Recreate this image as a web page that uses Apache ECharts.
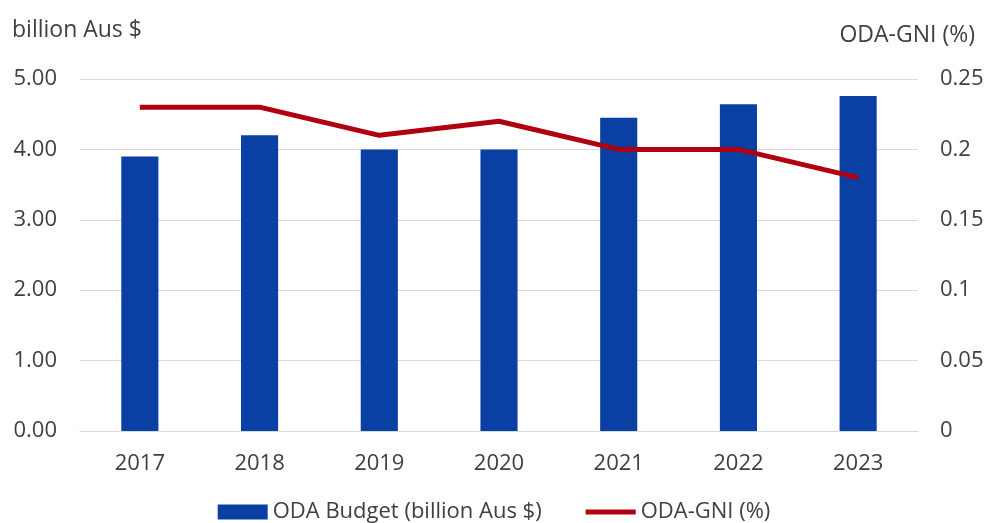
<!DOCTYPE html>
<html>
<head>
<meta charset="utf-8">
<script src="https://cdn.jsdelivr.net/npm/echarts@6/dist/echarts.min.js"></script>
<style>html,body{margin:0;padding:0;background:#fff}#c{width:988px;height:523px}</style>
</head>
<body>
<div id="c"></div>
<script>
const categories = ['2017','2018','2019','2020','2021','2022','2023'];
const odaBudget = [3.9, 4.2, 4.0, 4.0, 4.45, 4.64, 4.76];
const odaGni = [0.23, 0.23, 0.21, 0.22, 0.20, 0.20, 0.18];
const leftTitle = 'billion Aus $';
const rightTitle = 'ODA-GNI (%)';

const font = '"Open Sans", "Liberation Sans", sans-serif';
const txt = '#404040';
const chart = echarts.init(document.getElementById('c'));
chart.setOption({
  animation: false,
  textStyle: {fontFamily: font},
  title: [
    {text: leftTitle, left: 12, top: 19, padding: 0, textStyle: {fontFamily: font, fontSize: 23, fontWeight: 'normal', color: txt}},
    {text: rightTitle, right: 13, top: 24, padding: 0, textStyle: {fontFamily: font, fontSize: 23, fontWeight: 'normal', color: txt}}
  ],
  grid: {left: 80, right: 70, top: 79, bottom: 92, containLabel: false},
  legend: {
    top: 496, left: 'center', itemGap: 44, itemWidth: 50, itemHeight: 15,
    textStyle: {fontFamily: font, fontSize: 22, color: txt},
    data: [
      {name: 'ODA Budget (billion Aus $)', icon: 'rect'},
      {name: 'ODA-GNI (%)', icon: 'path://M0,0h50v5h-50z', itemStyle: {color: '#B00010'}}
    ]
  },
  xAxis: {
    type: 'category', data: categories,
    axisLine: {lineStyle: {color: '#d9d9d9', width: 1}},
    axisTick: {show: false},
    axisLabel: {fontSize: 22, color: txt, margin: 22, fontFamily: font}
  },
  yAxis: [
    {
      type: 'value', min: 0, max: 5, interval: 1,
      axisLabel: {fontSize: 22, color: txt, margin: 23, fontFamily: font, formatter: v => v.toFixed(2)},
      splitLine: {lineStyle: {color: '#d9d9d9', width: 1}},
      axisLine: {show: false}, axisTick: {show: false}
    },
    {
      type: 'value', min: 0, max: 0.25, interval: 0.05,
      axisLabel: {fontSize: 22, color: txt, margin: 22, fontFamily: font, formatter: v => String(Math.round(v*100)/100)},
      splitLine: {show: false},
      axisLine: {show: false}, axisTick: {show: false}
    }
  ],
  series: [
    {
      name: 'ODA Budget (billion Aus $)', type: 'bar', data: odaBudget,
      barWidth: '31%', itemStyle: {color: '#0A3FA3'}, yAxisIndex: 0
    },
    {
      name: 'ODA-GNI (%)', type: 'line', data: odaGni, yAxisIndex: 1,
      symbol: 'none', lineStyle: {color: '#B00010', width: 5},
      itemStyle: {color: '#B00010'}
    }
  ]
});
</script>
</body>
</html>
